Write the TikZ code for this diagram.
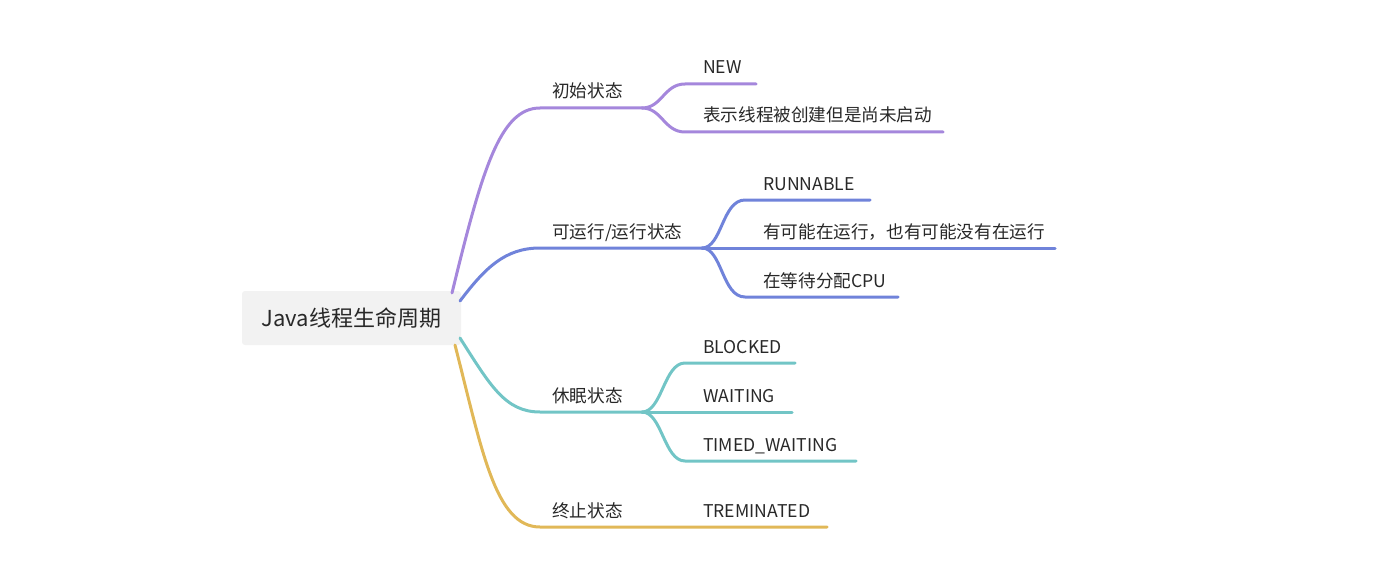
\documentclass[tikz,border=0pt]{standalone}
\usepackage{fontspec}
\setmainfont{Noto Sans CJK SC}
\definecolor{purp}{RGB}{165,135,220}
\definecolor{blu}{RGB}{112,131,218}
\definecolor{teal}{RGB}{114,197,198}
\definecolor{gold}{RGB}{225,184,88}
\definecolor{ink}{RGB}{40,40,40}
\tikzset{
  rootbox/.style={fill=black!5, rounded corners=3pt, minimum width=219pt, minimum height=54pt,
    text=ink, font=\fontsize{22}{25}\selectfont},
  lbl/.style={anchor=base west, inner sep=0pt, text=ink, font=\fontsize{17.6}{20}\selectfont},
  wire/.style={line width=3pt, line cap=round}
}
\begin{document}
\begin{tikzpicture}[x=1pt,y=-1pt]
    \useasboundingbox (0,0) rectangle (1394,575);
    \node[rootbox] (root) at (351.5,318) {Java线程生命周期};

    \node[lbl] (init) at (552,98) {初始状态};
    \node[lbl] (run) at (552,238) {可运行/运行状态};
    \node[lbl] (sleep) at (552,402) {休眠状态};
    \node[lbl] (stop) at (552,517) {终止状态};

    \node[lbl] (new) at (703,74) {NEW};
    \node[lbl] (newdesc) at (703,122) {表示线程被创建但是尚未启动};
    \node[lbl] (runnable) at (763,190) {RUNNABLE};
    \node[lbl] (mayrun) at (763,238) {有可能在运行，也有可能没有在运行};
    \node[lbl] (waitcpu) at (763,287) {在等待分配CPU};
    \node[lbl] (blocked) at (703,353) {BLOCKED};
    \node[lbl] (waiting) at (703,402) {WAITING};
    \node[lbl] (timedwait) at (703,451) {TIMED\_WAITING};
    \node[lbl] (terminated) at (703,517) {TREMINATED};

    \coordinate (r1) at (452,293);
    \coordinate (r2) at (460,301);
    \coordinate (r3) at (460,338);
    \coordinate (r4) at (455,345);

    \coordinate (k1) at (642,108);
    \coordinate (k2) at (702,248);
    \coordinate (k3) at (642,412);

    \draw[wire, purp] (r1) .. controls (482,170) and (500,108) .. (540,108) -- (k1);
    \draw[wire, purp] (k1) .. controls (662,108) and (664,84) .. (685,84) -- (756,84);
    \draw[wire, purp] (k1) .. controls (662,108) and (664,132) .. (685,132) -- (943,132);

    \draw[wire, blu] (r2) .. controls (485,268) and (505,248) .. (540,248) -- (k2);
    \draw[wire, blu] (k2) .. controls (722,248) and (722,200) .. (745,200) -- (870,200);
    \draw[wire, blu] (k2) -- (1055,248);
    \draw[wire, blu] (k2) .. controls (722,248) and (722,297) .. (745,297) -- (898,297);

    \draw[wire, teal] (r3) .. controls (490,385) and (505,412) .. (540,412) -- (k3);
    \draw[wire, teal] (k3) .. controls (662,412) and (664,363) .. (685,363) -- (795,363);
    \draw[wire, teal] (k3) -- (792,412);
    \draw[wire, teal] (k3) .. controls (662,412) and (664,461) .. (685,461) -- (856,461);

    \draw[wire, gold] (r4) .. controls (482,450) and (495,527) .. (540,527) -- (827,527);
\end{tikzpicture}
\end{document}
